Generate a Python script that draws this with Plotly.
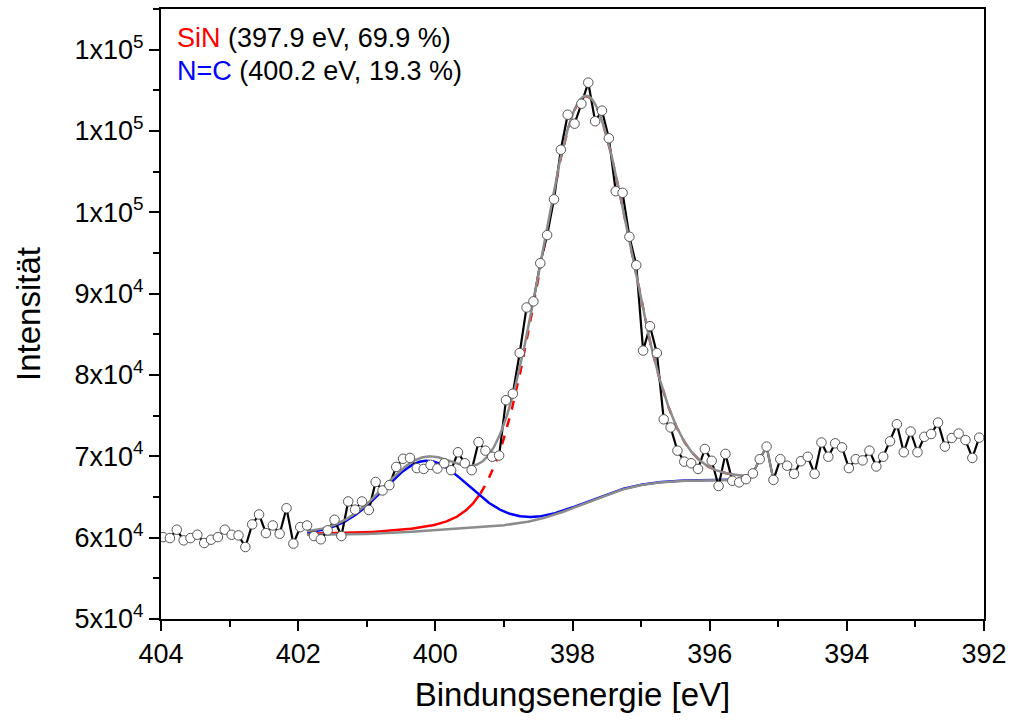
import numpy as np
import plotly.graph_objects as go

# ---------------- data ----------------
energy = [
    403.97, 403.87, 403.77, 403.67, 403.57, 403.47, 403.37, 403.27, 403.17, 403.07,
    402.97, 402.87, 402.77, 402.67, 402.57, 402.47, 402.37, 402.27, 402.17, 402.07,
    401.97, 401.87, 401.77, 401.67, 401.57, 401.47, 401.37, 401.27, 401.17, 401.07,
    400.97, 400.87, 400.77, 400.67, 400.57, 400.47, 400.37, 400.27, 400.17, 400.07,
    399.97, 399.87, 399.77, 399.67, 399.57, 399.47, 399.37, 399.27, 399.17, 399.07,
    398.97, 398.87, 398.77, 398.67, 398.57, 398.47, 398.37, 398.27, 398.17, 398.07,
    397.97, 397.87, 397.77, 397.67, 397.57, 397.47, 397.37, 397.27, 397.17, 397.07,
    396.97, 396.87, 396.77, 396.67, 396.57, 396.47, 396.37, 396.27, 396.17, 396.07,
    395.97, 395.87, 395.77, 395.67, 395.57, 395.47, 395.37, 395.27, 395.17, 395.07,
    394.97, 394.87, 394.77, 394.67, 394.57, 394.47, 394.37, 394.27, 394.17, 394.07,
    393.97, 393.87, 393.77, 393.67, 393.57, 393.47, 393.37, 393.27, 393.17, 393.07,
    392.97, 392.87, 392.77, 392.67, 392.57, 392.47, 392.37, 392.27, 392.17, 392.07,
]
intensity = [
    60070, 59950, 60980, 59670, 59950, 60360, 59340, 59750, 60070, 60980,
    60360, 60280, 58850, 61630, 62850, 60560, 61500, 60480, 63620, 59270,
    61300, 61500, 60200, 59800, 60900, 62200, 60200, 64450, 63450, 64450,
    63400, 66850, 65800, 66450, 68700, 69700, 69800, 68550, 68450, 68950,
    68500, 69150, 68300, 70500, 69150, 68300, 71750, 70700, 69950, 70100,
    76900, 77700, 82700, 88300, 89050, 93750, 97200, 101600, 107700, 112000,
    110900, 113350, 115950, 111200, 112500, 109100, 102600, 102400, 97000, 93500,
    83000, 86000, 82700, 74550, 73550, 70700, 69350, 69150, 68450, 70900,
    69450, 66350, 70300, 67000, 66800, 67200, 67900, 69650, 71200, 67100,
    69650, 68850, 67850, 69400, 69950, 67850, 71700, 69950, 71600, 71100,
    68550, 69650, 69500, 70700, 68750, 69950, 71850, 73950, 70500, 73050,
    70500, 72400, 72750, 74150, 71200, 72250, 72800, 72000, 69800, 72300,
]

# fit parameters
fit_start, fit_end = 401.87, 395.47
bg_left, bg_right = 60350, 67100
sin_center, sin_height, sin_fwhm = 397.83, 50000, 1.55
nc_center, nc_height, nc_fwhm = 400.15, 8600, 1.48
gl_mix = 0.08

y_tickvals = [50000, 60000, 70000, 80000, 90000, 100000, 110000, 120000]
y_ticktext = ["5x10<sup>4</sup>", "6x10<sup>4</sup>", "7x10<sup>4</sup>", "8x10<sup>4</sup>",
              "9x10<sup>4</sup>", "1x10<sup>5</sup>", "1x10<sup>5</sup>", "1x10<sup>5</sup>"]
x_tickvals = [404, 402, 400, 398, 396, 394, 392]

# ---------------- fit model curves ----------------
def pv(e, c, h, w, eta):
    g = np.exp(-4 * np.log(2) * (e - c) ** 2 / w ** 2)
    l = 1.0 / (1.0 + 4 * (e - c) ** 2 / w ** 2)
    return h * ((1 - eta) * g + eta * l)

e_fit = np.linspace(fit_start, fit_end, 700)
p_sin = pv(e_fit, sin_center, sin_height, sin_fwhm, gl_mix)
p_nc = pv(e_fit, nc_center, nc_height, nc_fwhm, gl_mix)
tot = p_sin + p_nc
cum = np.concatenate([[0], np.cumsum((tot[1:] + tot[:-1]) / 2)])
bg = bg_left + (bg_right - bg_left) * cum / cum[-1]
env = bg + tot
red = bg + p_sin
blue = bg + p_nc

split = e_fit >= 399.35

fig = go.Figure()
fig.add_trace(go.Scatter(x=e_fit[split], y=red[split], mode="lines",
                         line=dict(color="#ff0000", width=2.5), showlegend=False))
fig.add_trace(go.Scatter(x=e_fit[~split], y=red[~split], mode="lines",
                         line=dict(color="#ff0000", width=2.5, dash="dash"), showlegend=False))
fig.add_trace(go.Scatter(x=e_fit, y=blue, mode="lines",
                         line=dict(color="#0000ff", width=2.5), showlegend=False))
fig.add_trace(go.Scatter(x=e_fit, y=bg, mode="lines",
                         line=dict(color="#8c8c8c", width=2.5), showlegend=False))
fig.add_trace(go.Scatter(x=energy, y=intensity, mode="lines",
                         line=dict(color="black", width=2.2), showlegend=False))
fig.add_trace(go.Scatter(x=e_fit, y=env, mode="lines",
                         line=dict(color="#8c8c8c", width=2.5), showlegend=False))
fig.add_trace(go.Scatter(x=energy[85:90], y=intensity[85:90], mode="lines",
                         line=dict(color="#8c8c8c", width=2.2), showlegend=False))
fig.add_trace(go.Scatter(x=energy, y=intensity, mode="markers",
                         marker=dict(symbol="circle", size=9.5, color="white",
                                     line=dict(color="#555555", width=1)),
                         showlegend=False))

font_family = "Liberation Sans, Arial, sans-serif"

fig.update_layout(
    width=1014, height=724,
    margin=dict(l=161, r=29, t=7, b=105),
    paper_bgcolor="white", plot_bgcolor="white",
    font=dict(family=font_family, color="black"),
    xaxis=dict(
        range=[404, 392], tickvals=x_tickvals, ticktext=[str(v) for v in x_tickvals],
        ticks="outside", ticklen=10, tickwidth=2, tickcolor="black",
        minor=dict(dtick=1, ticks="outside", ticklen=6, tickwidth=2, tickcolor="black"),
        showline=True, linecolor="black", linewidth=2, mirror=True,
        showgrid=False, zeroline=False,
        tickfont=dict(size=27, family=font_family),
        title=dict(text="Bindungsenergie [eV]", font=dict(size=33, family=font_family), standoff=14),
    ),
    yaxis=dict(
        range=[50000, 125000], tickvals=y_tickvals, ticktext=y_ticktext,
        ticks="outside", ticklen=10, tickwidth=2, tickcolor="black",
        minor=dict(dtick=5000, ticks="outside", ticklen=6, tickwidth=2, tickcolor="black"),
        showline=True, linecolor="black", linewidth=2, mirror=True,
        showgrid=False, zeroline=False,
        tickfont=dict(size=27, family=font_family),
        title=dict(text="Intensität", font=dict(size=33, family=font_family), standoff=24),
    ),
    annotations=[
        dict(xref="paper", yref="paper", x=0.017, y=0.952, xanchor="left", yanchor="middle",
             text="<span style='color:#ff0000'>SiN</span> (397.9 eV, 69.9 %)",
             showarrow=False, font=dict(size=27, family=font_family, color="black")),
        dict(xref="paper", yref="paper", x=0.017, y=0.899, xanchor="left", yanchor="middle",
             text="<span style='color:#0000ff'>N=C</span> (400.2 eV, 19.3 %)",
             showarrow=False, font=dict(size=27, family=font_family, color="black")),
    ],
)

fig.write_html("out.html", config={"displayModeBar": False},
               post_script="document.body.style.margin='0';document.body.style.padding='0';")
